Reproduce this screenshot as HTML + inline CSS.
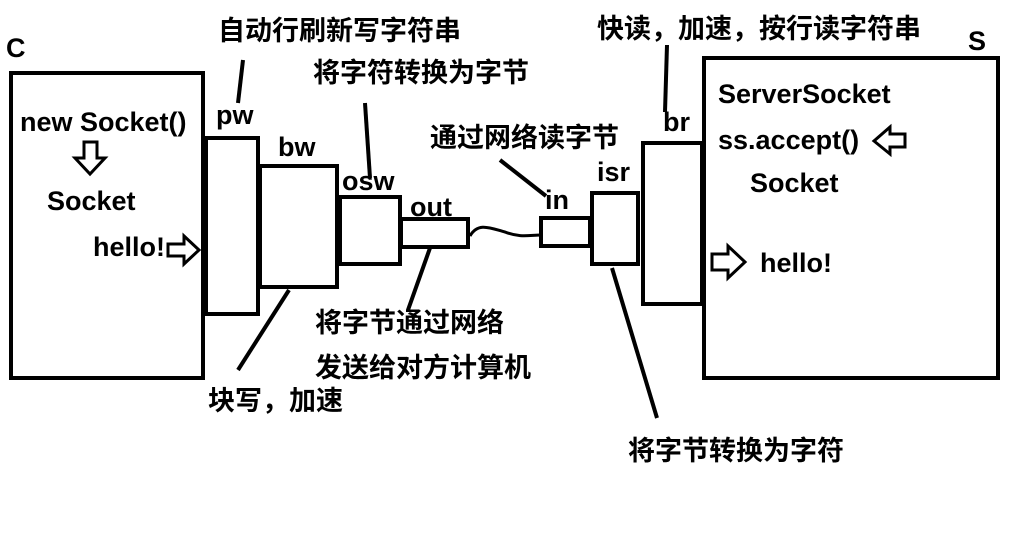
<!DOCTYPE html>
<html><head><meta charset="utf-8"><style>
html,body{margin:0;padding:0;background:#fff}
svg text{font-family:"Liberation Sans","Noto Sans CJK SC",sans-serif;font-weight:bold;fill:#000}
</style></head><body>
<svg width="1016" height="549" viewBox="0 0 1016 549" xmlns="http://www.w3.org/2000/svg">
<rect width="1016" height="549" fill="#fff"/>
<g fill="none" stroke="#000" stroke-width="4">
<rect x="11" y="73" width="192" height="305"/>
<rect x="206" y="138" width="52" height="176"/>
<rect x="260" y="166" width="77" height="121"/>
<rect x="340" y="197" width="60" height="67"/>
<rect x="401" y="219" width="67" height="28"/>
<rect x="541" y="218" width="49" height="28"/>
<rect x="592" y="193" width="46" height="71"/>
<rect x="643" y="143" width="59" height="161"/>
<rect x="704" y="58" width="294" height="320"/>
<path d="M470 236 C478 222,490 228,505 232 C520 238,530 235,541 235" stroke-width="3"/>
<line x1="243" y1="60" x2="238" y2="103"/>
<line x1="365" y1="103" x2="370" y2="178"/>
<line x1="500" y1="160" x2="546" y2="196"/>
<line x1="667" y1="45" x2="665" y2="112"/>
<line x1="289" y1="290" x2="238" y2="370"/>
<line x1="430" y1="248" x2="408" y2="310"/>
<line x1="612" y1="268" x2="657" y2="418"/>
<path d="M84 142 H97 V158 H105 L90 174 L75 158 H84 Z" stroke-width="3"/>
<path d="M168 244 H184 V236 L199 250 L184 264 V256 H168 Z" stroke-width="3"/>
<path d="M712 254 H728 V246 L745 262 L728 278 V270 H712 Z" stroke-width="3"/>
<path d="M905 134 H890 V127 L874 141 L890 154 V147 H905 Z" stroke-width="3"/>
</g>
<g font-size="27">
<text x="6" y="57">C</text>
<text x="20" y="131">new Socket()</text>
<text x="47" y="210">Socket</text>
<text x="93" y="256">hello!</text>
<text x="216" y="124">pw</text>
<text x="278" y="156">bw</text>
<text x="342" y="190">osw</text>
<text x="410" y="216">out</text>
<text x="545" y="209">in</text>
<text x="597" y="181">isr</text>
<text x="663" y="131">br</text>
<text x="968" y="50">S</text>
<text x="718" y="103">ServerSocket</text>
<text x="718" y="149">ss.accept()</text>
<text x="750" y="192">Socket</text>
<text x="760" y="272">hello!</text>
</g>
<g font-size="27">
<text x="218" y="40">自动行刷新写字符串</text>
<text x="313" y="82">将字符转换为字节</text>
<text x="430" y="147">通过网络读字节</text>
<text x="597" y="38">快读，加速，按行读字符串</text>
<text x="315" y="332">将字节通过网络</text>
<text x="315" y="377">发送给对方计算机</text>
<text x="208" y="410">块写，加速</text>
<text x="628" y="460">将字节转换为字符</text>
</g>
</svg>
</body></html>
